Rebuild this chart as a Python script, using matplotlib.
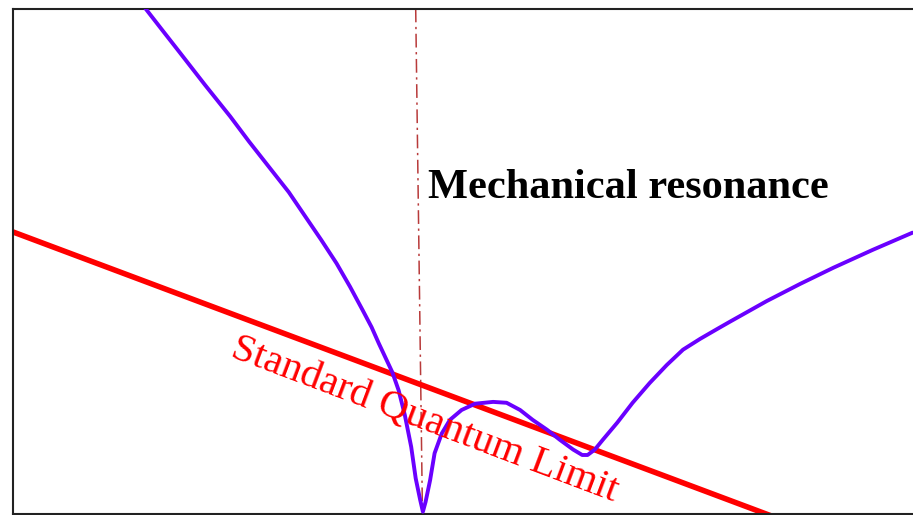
import matplotlib
matplotlib.use("Agg")
import matplotlib.pyplot as plt

# Displacement-noise spectrum around the mechanical resonance (arb. units)
freq = [1.47, 1.68, 1.86, 2.14, 2.42, 2.63, 2.85, 3.07, 3.26, 3.43,
        3.60, 3.75, 3.89, 3.99, 4.07, 4.22, 4.29, 4.36, 4.43, 4.48,
        4.53, 4.56, 4.59, 4.64, 4.69, 4.77, 4.86, 4.99, 5.14, 5.34,
        5.49, 5.64, 5.78, 5.94, 6.08, 6.23, 6.33, 6.39, 6.47, 6.56,
        6.72, 6.89, 7.08, 7.27, 7.45, 7.64, 7.83, 7.97, 8.38, 8.75,
        9.12, 9.56, 10.00]
noise = [5.62, 5.35, 5.12, 4.76, 4.41, 4.13, 3.85, 3.57, 3.29, 3.04,
         2.78, 2.52, 2.26, 2.07, 1.89, 1.57, 1.37, 1.09, 0.74, 0.39,
         0.15, 0.02, 0.13, 0.37, 0.67, 0.89, 1.04, 1.15, 1.22, 1.24,
         1.23, 1.15, 1.04, 0.93, 0.82, 0.71, 0.65, 0.65, 0.71, 0.82,
         1.01, 1.23, 1.45, 1.65, 1.82, 1.94, 2.05, 2.13, 2.36, 2.55,
         2.73, 2.93, 3.12]

# Standard quantum limit (straight line in log-log)
sql_freq = [0.0, 8.6]
sql_noise = [3.13, -0.09]

# Resonance marker
res_freq = [4.48, 4.555]
res_noise = [5.61, 0.0]

XMAX, YMAX = 10.0, 5.605

fig = plt.figure(figsize=(9.13, 5.15), dpi=100)
ax = fig.add_axes([12.5 / 913, 1.5 / 515, 900 / 913, 504.5 / 515])

ax.plot(res_freq, res_noise, color="#B83A3A", linewidth=1.1,
        linestyle=(0, (9, 3, 1.5, 3)), zorder=1)
ax.plot(sql_freq, sql_noise, color="#FF0000", linewidth=4.0,
        solid_capstyle="butt", zorder=2)
ax.plot(freq, noise, color="#6A00FF", linewidth=2.8,
        solid_joinstyle="round", solid_capstyle="round", zorder=3)

ax.text(4.617, 3.51, "Mechanical resonance", family="Liberation Serif",
        fontweight="bold", fontsize=30.5, color="black",
        ha="left", va="baseline")
ax.text(2.406, 1.745, "Standard Quantum Limit", family="Liberation Serif",
        fontsize=29.5, color="#FF0000", rotation=-20.7,
        rotation_mode="anchor", ha="left", va="baseline")

ax.set_xlim(0, XMAX)
ax.set_ylim(0, YMAX)
ax.set_xticks([])
ax.set_yticks([])
for side in ["left", "top", "bottom"]:
    ax.spines[side].set_linewidth(1.5)
    ax.spines[side].set_color("#222222")
ax.spines["right"].set_visible(False)

fig.savefig("out.png", dpi=100, facecolor="white")
